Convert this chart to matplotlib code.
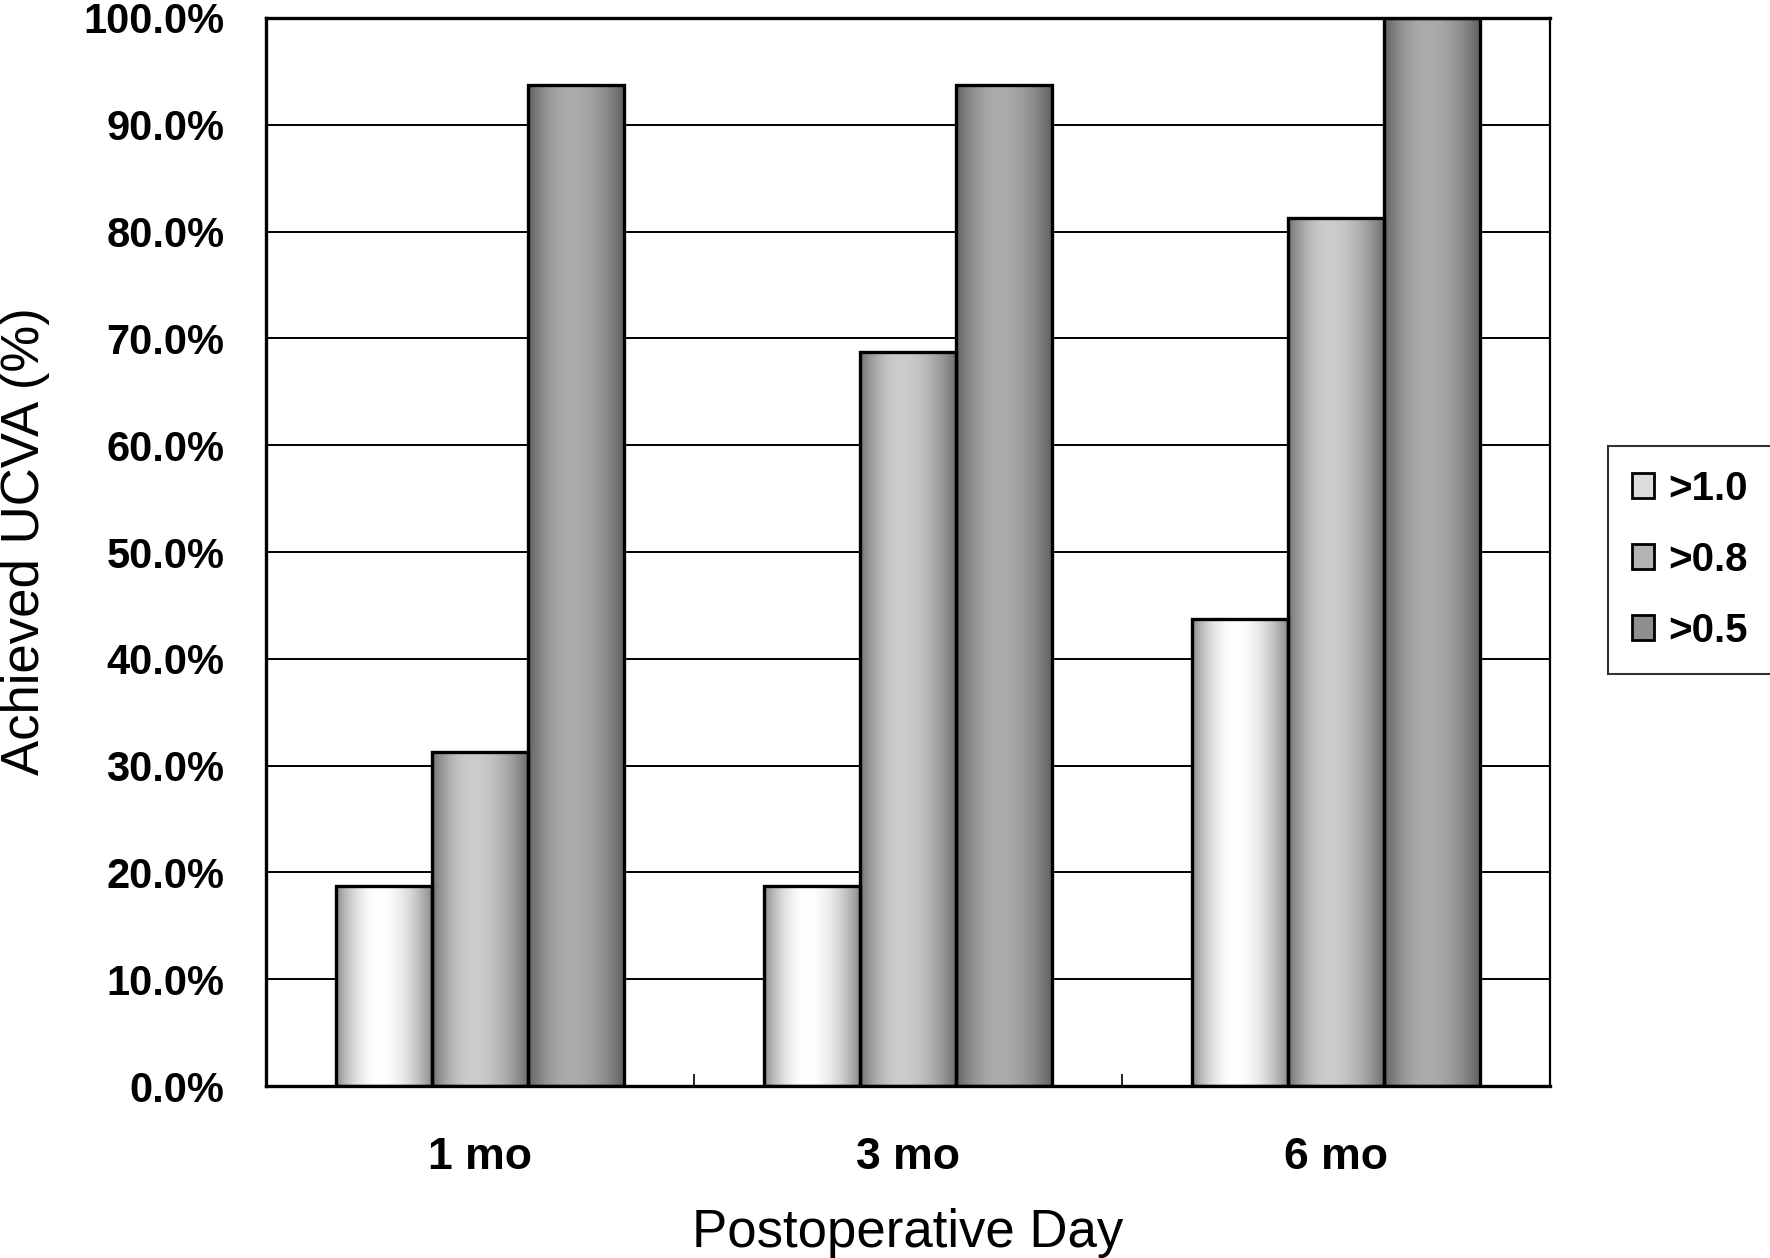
import numpy as np
import matplotlib
matplotlib.use("Agg")
import matplotlib.pyplot as plt
from matplotlib.patches import Patch

# data (percent of eyes reaching each UCVA level)
categories = ["1 mo", "3 mo", "6 mo"]
series_labels = [">1.0", ">0.8", ">0.5"]
ucva_10 = [18.75, 18.75, 43.75]
ucva_08 = [31.25, 68.75, 81.25]
ucva_05 = [93.75, 93.75, 100.0]
y_ticks = [0, 10, 20, 30, 40, 50, 60, 70, 80, 90, 100]

# cylinder-like shading: (edge grey, centre grey, position of highlight)
shades = [(0.55, 1.00, 0.45), (0.44, 0.80, 0.42), (0.38, 0.67, 0.45)]
legend_colors = ["#dcdcdc", "#b4b4b4", "#8e8e8e"]

plt.rcParams["font.family"] = ["Liberation Sans", "DejaVu Sans"]

fig = plt.figure(figsize=(17.7, 12.58), dpi=100)
ax = fig.add_axes([0.1503, 0.1367, 0.7254, 0.849])

x = np.arange(len(categories))
width = 0.224
all_vals = [ucva_10, ucva_08, ucva_05]


def gradient_row(edge, centre, peak, n=200):
    t = np.linspace(0, 1, n)
    d = np.where(t < peak, (t - peak) / peak, (t - peak) / (1 - peak))
    g = 1 - np.abs(d) ** 2
    v = edge + (centre - edge) * g
    return np.dstack([v, v, v])


for i, vals in enumerate(all_vals):
    bars = ax.bar(x + (i - 1) * width, vals, width, facecolor="none",
                  edgecolor="black", linewidth=2.4, zorder=3)
    img = gradient_row(*shades[i])
    for b in bars:
        im = ax.imshow(img, extent=[b.get_x(), b.get_x() + b.get_width(), 0, b.get_height()],
                       aspect="auto", zorder=2.5, interpolation="bilinear")
        im.set_clip_path(b)

ax.set_xlim(-0.5, 2.5)
ax.set_ylim(0, 100)

ax.set_yticks(y_ticks)
ax.set_yticklabels([f"{v:.1f}%" for v in y_ticks])
ax.set_xticks(x)
ax.set_xticklabels(categories)
ax.set_xticks([0.5, 1.5], minor=True)

ax.tick_params(axis="y", length=0, pad=30, labelsize=30)
ax.tick_params(axis="x", which="major", length=0, pad=37, labelsize=32)
ax.tick_params(axis="x", which="minor", direction="in", length=9, width=1.2)
for lab in ax.get_xticklabels() + ax.get_yticklabels():
    lab.set_fontweight("bold")

ax.grid(axis="y", color="black", linewidth=1.4)
ax.set_axisbelow(True)

for side in ["left", "top", "bottom"]:
    ax.spines[side].set_linewidth(2.4)
ax.spines["right"].set_linewidth(1.6)

ax.set_ylabel("Achieved UCVA (%)", fontsize=38, va="center")
ax.yaxis.set_label_coords(-0.188, 0.51)
ax.set_xlabel("Postoperative Day", fontsize=38, va="center")
ax.xaxis.set_label_coords(0.5, -0.138)

handles = [Patch(facecolor=c, edgecolor="black", linewidth=2) for c in legend_colors]
leg = fig.legend(handles, series_labels, loc="center left", bbox_to_anchor=(0.9085, 0.555),
                 fontsize=29, frameon=True, fancybox=False, handlelength=0.55,
                 handleheight=0.55, handletextpad=0.35, labelspacing=0.82, borderpad=0.6,
                 borderaxespad=0)
leg.get_frame().set_edgecolor("black")
leg.get_frame().set_linewidth(1.5)
for t in leg.get_texts():
    t.set_fontweight("bold")

fig.savefig("out.png", dpi=100)
